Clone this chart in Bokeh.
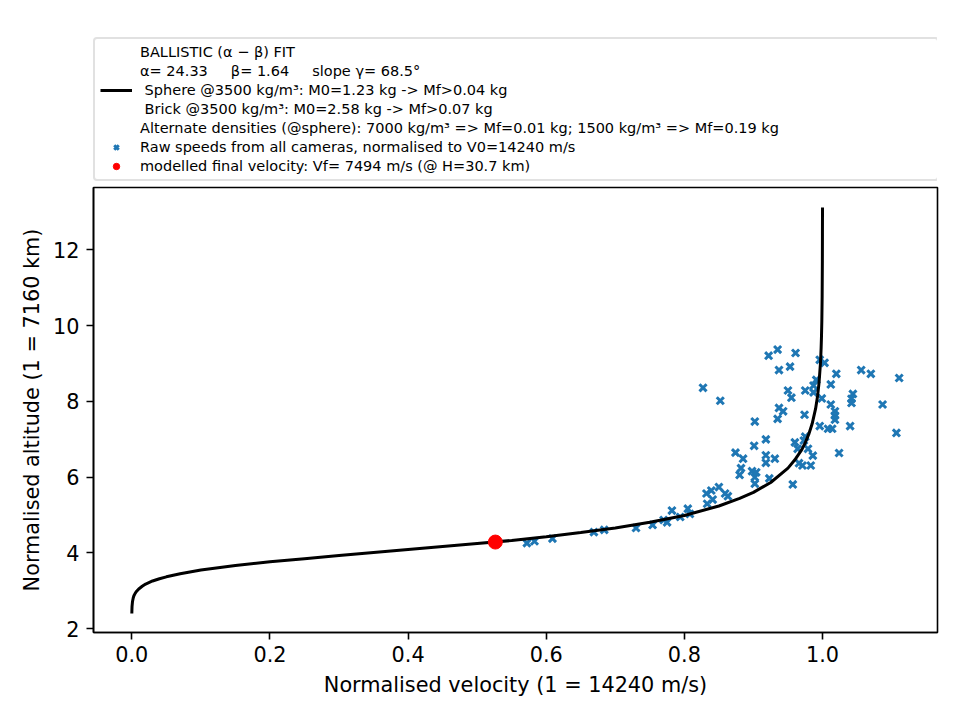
from bokeh.plotting import figure
from bokeh.layouts import column
from bokeh.models import Range1d, FixedTicker, NumeralTickFormatter, Legend, LegendItem
from bokeh.embed import file_html
from bokeh.resources import INLINE

# ---- data ----
curve_v = [0.0, 0.0001, 0.0003, 0.001, 0.002, 0.003, 0.005, 0.007, 0.01, 0.015, 0.02,
           0.03, 0.04, 0.05, 0.07, 0.1, 0.15, 0.2, 0.25, 0.3, 0.35, 0.4, 0.45, 0.5,
           0.55, 0.6, 0.65, 0.7, 0.75, 0.8, 0.85, 0.88, 0.9, 0.925, 0.95, 0.96,
           0.97, 0.975, 0.98, 0.985, 0.99, 0.993, 0.995, 0.997, 0.9975, 0.998,
           0.9985, 0.999, 0.9995, 0.9998, 0.9999, 1.0]
curve_h = [2.40, 2.48, 2.59, 2.72, 2.81, 2.87, 2.94, 2.99, 3.05, 3.12, 3.18,
           3.26, 3.32, 3.37, 3.45, 3.55, 3.67, 3.77, 3.85, 3.93, 4.01, 4.09, 4.17, 4.25,
           4.33, 4.43, 4.54, 4.66, 4.81, 4.99, 5.24, 5.44, 5.60, 5.86, 6.24, 6.46,
           6.73, 6.91, 7.13, 7.41, 7.81, 8.16, 8.50, 9.00, 9.19, 9.41,
           9.70, 10.10, 10.79, 11.71, 12.40, 13.12]

raw_v = [0.572, 0.583, 0.609, 0.669, 0.684, 0.730, 0.754, 0.770, 0.775, 0.782,
         0.794, 0.805, 0.808, 0.832, 0.839, 0.841, 0.833, 0.850, 0.859, 0.863,
         0.827, 0.852, 0.922, 0.935, 0.961, 0.937, 0.953, 0.950, 0.955, 0.937,
         0.943, 0.935, 0.902, 0.918, 0.901, 0.874, 0.885, 0.918, 0.918, 0.931,
         0.960, 0.964, 0.882, 0.880, 0.898, 0.904, 0.902, 0.902, 0.923, 0.957,
         0.966, 0.971, 0.983, 0.986, 0.979, 0.973, 0.975, 1.024, 0.996, 1.008,
         1.014, 1.040, 1.107, 0.974, 1.012, 1.018, 1.018, 1.018, 1.087, 0.999,
         1.044, 1.042, 1.042, 0.975, 0.987, 0.987, 0.991, 1.012, 1.020, 1.056,
         1.070, 1.111, 0.996, 1.003]
raw_h = [4.26, 4.31, 4.38, 4.55, 4.61, 4.66, 4.74, 4.87, 4.81, 5.12,
         4.95, 5.17, 5.03, 5.57, 5.65, 5.41, 5.30, 5.74, 5.57, 5.50,
         8.36, 8.02, 9.21, 9.37, 9.28, 8.83, 8.92, 8.29, 8.10, 7.83,
         7.74, 7.54, 7.47, 7.00, 6.83, 6.65, 6.49, 6.58, 6.38, 6.49,
         6.92, 6.75, 6.24, 6.06, 6.16, 6.13, 6.00, 5.83, 5.97, 5.81,
         6.37, 6.31, 6.31, 6.57, 6.75, 6.97, 7.07, 6.64, 7.35, 7.28,
         7.28, 7.35, 7.17, 7.65, 7.92, 7.74, 7.63, 7.52, 7.92, 8.08,
         8.20, 8.07, 7.96, 8.29, 8.24, 8.42, 8.57, 8.45, 8.73, 8.83,
         8.73, 8.62, 9.10, 9.02]

final_v = [0.5263]
final_h = [4.288]

x_ticks = [0.0, 0.2, 0.4, 0.6, 0.8, 1.0]
y_ticks = [2, 4, 6, 8, 10, 12]

NB = "\u00a0"
legend_fit_lines = [
    "BALLISTIC (α − β) FIT",
    "α= 24.33" + NB * 5 + "β= 1.64" + NB * 5 + "slope γ= 68.5°",
    NB + "Sphere @3500 kg/m³: M0=1.23 kg -> Mf>0.04 kg",
    NB + "Brick @3500 kg/m³: M0=2.58 kg -> Mf>0.07 kg",
    "Alternate densities (@sphere): 7000 kg/m³ => Mf=0.01 kg; 1500 kg/m³ => Mf=0.19 kg",
]
legend_raw = "Raw speeds from all cameras, normalised to V0=14240 m/s"
legend_final = "modelled final velocity: Vf= 7494 m/s (@ H=30.7 km)"

x_label = "Normalised velocity (1 = 14240 m/s)"
y_label = "Normalised altitude (1 = 7160 km)"

FONT = "DejaVu Sans"
RAW_STYLE = dict(marker="x", size=10, line_color="#1f77b4", line_width=3)
CURVE_STYLE = dict(line_color="black", line_width=3)
FINAL_STYLE = dict(marker="circle", size=14, fill_color="#ff0000", line_color="#ff0000")
NAN = [float("nan")]  # legend keys only: nothing is drawn in the strip itself

# ---------------- main chart ----------------
p = figure(width=960, height=535, output_backend="svg", toolbar_location=None,
           x_range=Range1d(-0.0555, 1.1665), y_range=Range1d(1.90, 13.65),
           min_border_left=93, min_border_right=23, min_border_top=2,
           min_border_bottom=88)
p.xgrid.visible = False
p.ygrid.visible = False
p.background_fill_color = "white"
p.border_fill_color = "white"
p.outline_line_color = "black"
p.outline_line_width = 1.6

for ax in (p.xaxis[0], p.yaxis[0]):
    ax.axis_line_color = "black"
    ax.axis_line_width = 1.6
    ax.major_tick_line_color = "black"
    ax.major_tick_line_width = 1.6
    ax.major_tick_out = 7
    ax.major_tick_in = 0
    ax.minor_tick_line_color = None
    ax.major_label_text_font = FONT
    ax.major_label_text_font_size = "20.8px"
    ax.major_label_text_color = "black"
    ax.axis_label_text_font = FONT
    ax.axis_label_text_font_size = "20.8px"
    ax.axis_label_text_font_style = "normal"
    ax.axis_label_text_color = "black"

p.xaxis.ticker = FixedTicker(ticks=x_ticks)
p.yaxis.ticker = FixedTicker(ticks=y_ticks)
p.xaxis.formatter = NumeralTickFormatter(format="0.0")
p.yaxis.formatter = NumeralTickFormatter(format="0")
p.xaxis.axis_label = x_label
p.yaxis.axis_label = y_label
p.xaxis.major_label_standoff = 6
p.yaxis.major_label_standoff = 7
p.xaxis.axis_label_standoff = 8
p.yaxis.axis_label_standoff = 6

p.scatter(raw_v, raw_h, **RAW_STYLE)
p.line(curve_v, curve_h, **CURVE_STYLE)
p.scatter(final_v, final_h, **FINAL_STYLE)

# ---------------- legend strip above the chart ----------------
lg = figure(width=960, height=185, output_backend="svg", toolbar_location=None,
            x_range=Range1d(0, 1), y_range=Range1d(0, 1),
            x_axis_location=None, y_axis_location=None,
            min_border_left=93, min_border_right=5, min_border_top=37,
            min_border_bottom=4)
lg.xgrid.visible = False
lg.ygrid.visible = False
lg.outline_line_color = None
lg.background_fill_color = "white"
lg.border_fill_color = "white"

blank = [lg.line(x=NAN, y=NAN, line_alpha=0) for _ in range(4)]
k_curve = lg.line(x=NAN, y=NAN, **CURVE_STYLE)
k_raw = lg.scatter(x=NAN, y=NAN, **RAW_STYLE)
k_final = lg.scatter(x=NAN, y=NAN, **FINAL_STYLE)

items = [
    LegendItem(label=legend_fit_lines[0], renderers=[blank[0]]),
    LegendItem(label=legend_fit_lines[1], renderers=[blank[1]]),
    LegendItem(label=legend_fit_lines[2], renderers=[k_curve]),
    LegendItem(label=legend_fit_lines[3], renderers=[blank[2]]),
    LegendItem(label=legend_fit_lines[4], renderers=[blank[3]]),
    LegendItem(label=legend_raw, renderers=[k_raw]),
    LegendItem(label=legend_final, renderers=[k_final]),
]

legend = Legend(items=items, location="top_left", padding=5, spacing=3,
                glyph_width=32, glyph_height=16, label_height=16,
                label_standoff=8, label_width=792,
                label_text_font=FONT, label_text_font_size="14.5px",
                label_text_color="black",
                border_line_color="#c4c4c4", border_line_width=2,
                background_fill_color="white", background_fill_alpha=1.0,
                margin=0)
if "border_radius" in Legend.properties():
    legend.border_radius = 4
lg.add_layout(legend, "center")

page = column(lg, p, spacing=0)
open("out.html", "w").write(file_html(page, INLINE))
